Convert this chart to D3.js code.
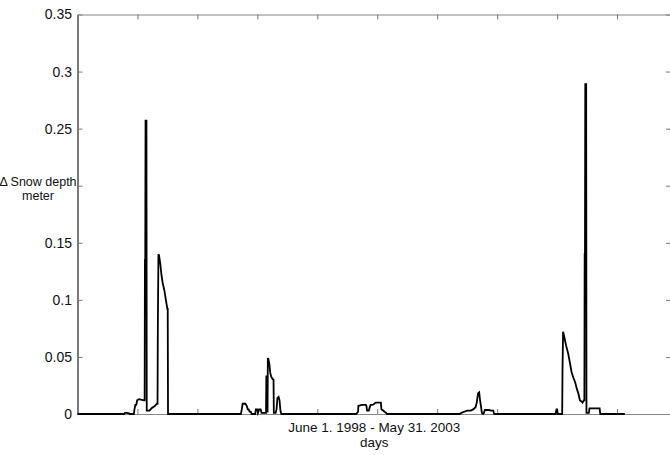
<!DOCTYPE html>
<html>
<head>
<meta charset="utf-8">
<script src="https://cdn.jsdelivr.net/npm/d3@7"></script>
<style>
  html, body { margin: 0; padding: 0; background: #fff; }
  svg { display: block; }
  text { font-family: "Liberation Sans", Arial, Helvetica, sans-serif; fill: #111; }
</style>
</head>
<body>
<svg id="chart" width="670" height="455"></svg>
<script>
// Daily change in snow depth, June 1 1998 - May 31 2003 (day index from June 1 1998)
const dayIndex = [
  0, 155, 158, 165, 172, 175, 188, 190, 193, 196, 199, 205, 222, 224, 225, 226, 227, 230, 231, 240,
  247, 258, 265, 267, 268, 270, 272, 276, 280, 284, 290, 296, 300, 301, 302,
  545, 548, 551, 560, 565, 568, 571, 574, 578, 581, 593, 595, 600, 602, 606, 611, 614, 620,
  626, 629, 630, 631, 632, 634, 635, 637, 640, 643, 646, 650, 654, 655, 661, 664, 667, 671, 674, 677, 680,
  930, 936, 937, 948, 962, 964, 966, 972, 975, 978, 985, 990, 995, 1012, 1014, 1020, 1024, 1030, 1032,
  1275, 1281, 1290, 1300, 1312, 1320, 1328, 1332, 1336, 1340, 1343, 1346, 1349, 1353, 1356, 1359, 1372, 1380, 1387, 1390,
  1595, 1598, 1600, 1602, 1617, 1618, 1620, 1622, 1626, 1630, 1637, 1642, 1648, 1654, 1660, 1666, 1671, 1676, 1681, 1685,
  1689, 1691, 1692, 1693, 1694, 1697, 1698, 1706, 1708, 1742, 1744, 1826
];
const snowDepthChange = [
  0, 0, 0.001, 0.001, 0.0005, 0, 0, 0.004, 0.008, 0.008, 0.012, 0.013, 0.012, 0.012, 0.135, 0.135, 0.257, 0.257, 0.003, 0.003,
  0.005, 0.007, 0.009, 0.009, 0.075, 0.14, 0.139, 0.132, 0.122, 0.115, 0.108, 0.098, 0.092, 0.092, 0,
  0, 0.004, 0.009, 0.009, 0.007, 0.004, 0.004, 0.002, 0.002, 0, 0, 0.004, 0.004, 0.001, 0.004, 0.004, 0.001, 0.001,
  0.001, 0.001, 0.033, 0.033, 0.002, 0.002, 0.049, 0.048, 0.044, 0.036, 0.033, 0.031, 0.030, 0.001, 0.001, 0.004, 0.014, 0.015, 0.012, 0.003, 0,
  0, 0.002, 0.007, 0.008, 0.008, 0.007, 0.003, 0.003, 0.006, 0.008, 0.008, 0.009, 0.010, 0.010, 0.004, 0.003, 0.002, 0.001, 0,
  0, 0.001, 0.002, 0.003, 0.003, 0.004, 0.006, 0.010, 0.018, 0.019, 0.012, 0.007, 0.001, 0, 0.001, 0.0035, 0.0035, 0.003, 0.003, 0,
  0, 0.004, 0.004, 0, 0, 0.037, 0.072, 0.070, 0.065, 0.060, 0.053, 0.046, 0.037, 0.032, 0.028, 0.022, 0.018, 0.012, 0.011, 0.010,
  0.012, 0.012, 0.14, 0.14, 0.289, 0.289, 0.001, 0.001, 0.005, 0.005, 0, 0
];
// The 0.2 position is where the y label sits, so that tick carries no number
const yTickValues = [0, 0.05, 0.1, 0.15, 0.2, 0.25, 0.3, 0.35];
const yTickLabels = ["0", "0.05", "0.1", "0.15", "", "0.25", "0.3", "0.35"];
const xTickValues = [200, 400, 600, 800, 1000, 1200, 1400, 1600, 1800];
const xLabelLines = ["June 1. 1998 - May 31. 2003", "days"];
const yLabelLines = ["\u0394 Snow depth", "meter"];

const svg = d3.select("#chart");
const plotLeft = 77.5, plotRight = 671, plotTop = 14.5, plotBottom = 414;

const x = d3.scaleLinear().domain([0, 1980]).range([plotLeft, plotRight]);
const y = d3.scaleLinear().domain([0, 0.35]).range([plotBottom, plotTop]);

const tickColor = "#777";

// Axis box: ticks pointing inward on all four sides
const gLeft = svg.append("g").attr("transform", `translate(${plotLeft},0)`)
  .call(d3.axisLeft(y).tickValues(yTickValues)
    .tickFormat((d, i) => yTickLabels[i]).tickSizeInner(-5).tickSizeOuter(0).tickPadding(5.5));
gLeft.select(".domain").attr("stroke", "#222").attr("stroke-width", 1.2);
gLeft.selectAll(".tick line").attr("stroke", tickColor);
gLeft.selectAll(".tick text").attr("font-size", 14).attr("fill", "#111")
  .style("font-family", "'Liberation Sans', Arial, sans-serif");

const gRight = svg.append("g").attr("transform", `translate(${plotRight},0)`)
  .call(d3.axisRight(y).tickValues(yTickValues).tickFormat("").tickSizeInner(-5).tickSizeOuter(0));
gRight.select(".domain").attr("stroke", "#888");
gRight.selectAll(".tick line").attr("stroke", tickColor);

const gTop = svg.append("g").attr("transform", `translate(0,${plotTop})`)
  .call(d3.axisTop(x).tickValues(xTickValues).tickFormat("").tickSizeInner(-5).tickSizeOuter(0));
gTop.select(".domain").attr("stroke", "#888").attr("stroke-width", 1.2);
gTop.selectAll(".tick line").attr("stroke", tickColor);

const gBottom = svg.append("g").attr("transform", `translate(0,${plotBottom})`)
  .call(d3.axisBottom(x).tickValues(xTickValues).tickFormat("").tickSizeInner(-5).tickSizeOuter(0));
gBottom.select(".domain").attr("stroke", "#888").attr("stroke-width", 1.2);
gBottom.selectAll(".tick line").attr("stroke", tickColor);

// Snow depth change series
const series = dayIndex.map((d, i) => [d, snowDepthChange[i]]);
svg.append("path")
  .datum(series)
  .attr("fill", "none")
  .attr("stroke", "#000")
  .attr("stroke-width", 1.8)
  .attr("stroke-linejoin", "miter")
  .attr("d", d3.line().x(d => x(d[0])).y(d => y(d[1])));

// Y label, drawn horizontally beside the axis
svg.selectAll("text.ylab").data(yLabelLines).join("text")
  .attr("class", "ylab")
  .attr("x", 38).attr("y", (d, i) => 186 + i * 14)
  .attr("text-anchor", "middle").attr("font-size", 12.5)
  .text(d => d);

// X label
svg.selectAll("text.xlab").data(xLabelLines).join("text")
  .attr("class", "xlab")
  .attr("x", (plotLeft + plotRight) / 2).attr("y", (d, i) => 432 + i * 15)
  .attr("text-anchor", "middle").attr("font-size", 13.5)
  .text(d => d);
</script>
</body>
</html>
